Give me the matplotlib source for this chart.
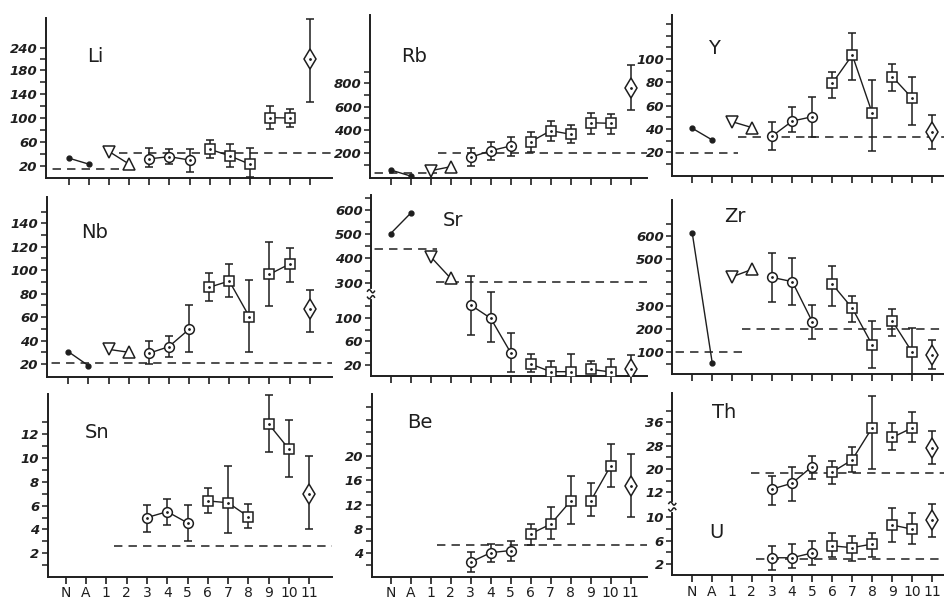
import matplotlib.pyplot as plt
import numpy as np
from matplotlib.lines import Line2D

W, H = 944, 600
ink = '#1e1e1e'
nan = np.nan

cats = ['N', 'A', '1', '2', '3', '4', '5', '6', '7', '8', '9', '10', '11']
groups = [[0, 1], [2, 3], [4, 5, 6], [7, 8, 9], [10, 11]]

# --- values (nan = no point / no error bar) ---
li_val = [33, 23, 44, 23, 32, 35.5, 30, 48, 37, 23, 100.5, 100, 210]
li_lo = [nan, nan, nan, nan, 19, 23, 9.5, 34, 18, 1, 81, 85, 126]
li_hi = [nan, nan, nan, nan, 50, 49, 48, 63, 57, 50, 120, 115, 320]
li_dash = [(-3, 2.9, 14.5), (2.5, 15, 41)]

rb_val = [57, 5, 51, 85, 166, 222, 263, 299, 394, 363, 462, 457, 762]
rb_lo = [nan, nan, nan, nan, 94, 143, 179, 209, 305, 286, 363, 365, 571]
rb_hi = [nan, nan, nan, nan, 243, 299, 342, 385, 479, 443, 548, 537, 957]
rb_dash = [(-3, 2.3, 34), (2.35, 15, 200)]

y_val = [40.6, 30.5, 46.2, 41.1, 34, 46.8, 50.5, 79.2, 103.4, 53.4, 84.8, 66.3, 37.1]
y_lo = [nan, nan, nan, nan, 22, 37.1, 32.9, 66.3, 82, 21.4, 72.8, 43.4, 22.8]
y_hi = [nan, nan, nan, nan, 46.2, 59.1, 67.2, 89.1, 122.6, 81.7, 95.7, 84.8, 52]
y_dash = [(-3, 2.28, 19.7), (2.28, 15, 33.4)]

nb_val = [30.5, 18.6, 32.5, 30, 29.1, 34.8, 49.6, 85.4, 90.8, 60.3, 96.5, 105.3, 66.9]
nb_lo = [nan, nan, nan, nan, 20, 25.7, 30, 73.7, 76.9, 30.5, 69.7, 90.2, 47]
nb_hi = [nan, nan, nan, nan, 39.6, 43.9, 70.3, 97.9, 105.3, 91.6, 124.3, 118.7, 83.1]
nb_dash = [(-3, 15, 20.6)]

sr_val = [503, 587, 407, 318, 121.5, 99, 40.8, 21.7, 8.7, 8.7, 12.7, 8.2, 12.4]
sr_lo = [nan, nan, nan, nan, 70.7, 59.4, 7.7, 8.7, 2, 2, 7, 2, 2]
sr_hi = [nan, nan, nan, nan, 327.6, 245, 73.6, 38.1, 26.8, 38.1, 26.8, 30, 36.9]
sr_dash = [(-3, 2.3, 438), (2.28, 15, 304)]

zr_val = [610, 52.8, 424, 456, 421, 403, 231, 392, 289, 131, 234, 100, 89]
zr_lo = [nan, nan, nan, nan, 317, 301, 157, 299, 231, 31, 171, 6, 28]
zr_hi = [nan, nan, nan, nan, 527, 506, 303, 471, 343, 234, 286, 205, 153]
zr_dash = [(-3, 2.47, 102), (2.5, 15, 199)]

sn_val = [nan, nan, nan, nan, 5.0, 5.5, 4.56, 6.4, 6.25, 5.07, 12.86, 10.75, 7.0]
sn_lo = [nan, nan, nan, nan, 3.8, 4.4, 3.0, 5.35, 3.7, 4.15, 10.5, 8.4, 4.0]
sn_hi = [nan, nan, nan, nan, 6.05, 6.55, 6.1, 7.5, 9.3, 6.13, 15.3, 13.2, 10.2]
sn_dash = [(2.4, 15, 2.6)]

be_val = [nan, nan, nan, nan, 2.55, 4.1, 4.46, 7.2, 8.8, 12.6, 12.6, 18.4, 15.0]
be_lo = [nan, nan, nan, nan, 1.0, 2.55, 2.7, 5.3, 6.3, 8.8, 10.2, 14.9, 9.9]
be_hi = [nan, nan, nan, nan, 4.2, 5.6, 6.0, 8.9, 11.6, 16.7, 15.5, 22, 20.4]
be_dash = [(2.3, 15, 5.3)]

th_val = [nan, nan, nan, nan, 13.1, 15.1, 20.8, 18.9, 23.1, 34.1, 30.8, 34.1, 27.3]
th_lo = [nan, nan, nan, nan, 7.6, 9.1, 16.6, 14.7, 18.9, 19.9, 26.5, 29.2, 21.6]
th_hi = [nan, nan, nan, nan, 17.6, 20.6, 24.6, 22.7, 27.7, 45, 35.6, 39.4, 33.1]
th_dash = [(2.98, 15, 18.7)]

u_val = [nan, nan, nan, nan, 3.1, 3.1, 3.9, 5.1, 4.8, 5.4, 8.6, 7.9, 9.4]
u_lo = [nan, nan, nan, nan, 1.0, 1.3, 1.9, 3.3, 2.6, 3.3, 5.8, 5.4, 6.6]
u_hi = [nan, nan, nan, nan, 5.1, 5.4, 6.0, 7.3, 6.8, 7.2, 11.4, 10.7, 12.2]
u_dash = [(3.2, 15, 2.9)]

fig = plt.figure(figsize=(W / 100, H / 100), dpi=100)


def panel(left, right, top, bottom, n_px, p11_px, bottom_row=False):
    ax = fig.add_axes([left / W, 1 - bottom / H, (right - left) / W, (bottom - top) / H])
    dx = (p11_px - n_px) / 12
    ax.set_xlim(-(n_px - left) / dx, 12 + (right - p11_px) / dx)
    for s in ['top', 'right']:
        ax.spines[s].set_visible(False)
    for s in ['left', 'bottom']:
        ax.spines[s].set_linewidth(1.4)
        ax.spines[s].set_color(ink)
    ax.set_xticks(range(13), cats if bottom_row else [])
    ax.tick_params(axis='x', direction='out', length=5, width=1.2, color=ink,
                   labelsize=10, labelcolor=ink, pad=2)
    ax.tick_params(axis='y', direction='out', length=4, width=1.1, color=ink,
                   labelsize=9.5, labelcolor=ink, pad=2)
    return ax


def lin_ylim(ax, top, bottom, v1, p1, v2, p2):
    k = (p1 - p2) / (v2 - v1)
    ax.set_ylim(v1 - (bottom - p1) / k, v1 + (p1 - top) / k)


def pw_scale(ax, top, bottom, vals, pix):
    h = -np.array(pix, float)
    v = np.array(vals, float)
    fwd = lambda a: np.interp(a, v, h)
    inv = lambda a: np.interp(a, h, v)
    ax.set_yscale('function', functions=(fwd, inv))
    ax.set_ylim(inv(-bottom), inv(-top))


def yticks(ax, ticks, labelled):
    labels = [str(t) if t in labelled else '' for t in ticks]
    ax.set_yticks(ticks, labels, fontstyle='italic', fontweight='bold')
    ax.minorticks_off()


def draw(ax, val, lo, hi, dashes):
    x = np.arange(13)
    val = np.array(val, float)
    lo = np.array(lo, float)
    hi = np.array(hi, float)
    for a, b, v in dashes:
        ax.plot([a, b], [v, v], ls=(0, (5.5, 4)), color=ink, lw=1.1, zorder=1)
    for g in groups:
        ax.plot(x[g], val[g], '-', color=ink, lw=1.0, zorder=2)
    ok = ~np.isnan(lo)
    ax.errorbar(x[ok], val[ok], yerr=[val[ok] - lo[ok], hi[ok] - val[ok]], fmt='none',
                ecolor=ink, elinewidth=1.1, capsize=3, capthick=1.1, zorder=2)
    kw = dict(ls='none', mfc='white', mec=ink, mew=1.1, zorder=3)
    ax.plot(x[0:2], val[0:2], 'o', ms=3.5, color=ink, ls='none', zorder=3)
    ax.plot(x[2:3], val[2:3], 'v', ms=8, **kw)
    ax.plot(x[3:4], val[3:4], '^', ms=8, **kw)
    ax.plot(x[4:7], val[4:7], 'o', ms=7, **kw)
    ax.plot(x[7:12], val[7:12], 's', ms=7, **kw)
    ax.plot(x[12:], val[12:], 'd', ms=10.5, **kw)
    ax.plot(x[4:], val[4:], '.', ms=2, color=ink, ls='none', zorder=4)


def spine_break(x_px, y1, y2):
    fig.add_artist(Line2D([x_px / W] * 2, [1 - y1 / H, 1 - y2 / H], color='white', lw=3))
    t = np.linspace(-1, 1, 20)
    for yy, sgn in ((y1, 1), (y2, -1)):
        xs = x_px + 3.5 * t
        ys = yy + sgn * 1.6 * np.sin(np.pi * t)
        fig.add_artist(Line2D(xs / W, 1 - ys / H, color=ink, lw=1.1))


def label(x_px, y_px, s):
    fig.text(x_px / W, 1 - y_px / H, s, ha='center', va='center', fontsize=14, color=ink)


# Li
ax = panel(46, 332, 18, 178, 69, 310)
pw_scale(ax, 18, 178, [-50, 20, 180, 240, 500], [208, 166, 70, 48, -47.3])
yticks(ax, [20, 40, 60, 80, 100, 120, 140, 160, 180, 210, 240], [20, 60, 100, 140, 180, 240])
draw(ax, li_val, li_lo, li_hi, li_dash)
label(95, 57, 'Li')

# Rb
ax = panel(370, 647, 15, 177.7, 390.7, 630.7)
lin_ylim(ax, 15, 177.7, 200, 153.3, 800, 83.3)
yticks(ax, list(range(100, 1000, 100)), [200, 400, 600, 800])
draw(ax, rb_val, rb_lo, rb_hi, rb_dash)
label(414, 57, 'Rb')

# Y
ax = panel(672.3, 944, 15, 175.7, 692.3, 932.3)
lin_ylim(ax, 15, 175.7, 20, 152.3, 100, 59)
yticks(ax, list(range(10, 140, 10)), [20, 40, 60, 80, 100])
draw(ax, y_val, y_lo, y_hi, y_dash)
label(714, 48, 'Y')

# Nb
ax = panel(46.7, 332, 197.3, 376.7, 68.3, 309.7)
lin_ylim(ax, 197.3, 376.7, 20, 364, 140, 223.3)
yticks(ax, list(range(20, 160, 10)), [20, 40, 60, 80, 100, 120, 140])
draw(ax, nb_val, nb_lo, nb_hi, nb_dash)
label(95, 233, 'Nb')

# Sr (broken axis)
ax = panel(371, 647, 195, 375.7, 390.7, 630.7)
pw_scale(ax, 195, 375.7, [-50, 135.5, 262.9, 900], [406.4, 296.7, 291.7, 137.3])
yticks(ax, [20, 40, 60, 80, 100, 120, 300, 350, 400, 450, 500, 550, 600, 650],
       [20, 60, 100, 300, 400, 500, 600])
draw(ax, sr_val, sr_lo, sr_hi, sr_dash)
spine_break(371, 291.2, 297.2)
label(453, 220, 'Sr')

# Zr
ax = panel(672.3, 944, 200, 374.3, 692.3, 932.3)
lin_ylim(ax, 200, 374.3, 100, 352.3, 600, 235.7)
yticks(ax, list(range(50, 700, 50)), [100, 200, 300, 500, 600])
draw(ax, zr_val, zr_lo, zr_hi, zr_dash)
label(735, 217, 'Zr')

# Sn
ax = panel(47.7, 332, 394, 576.7, 65.7, 309.3, bottom_row=True)
lin_ylim(ax, 394, 576.7, 2, 553.3, 12, 434.3)
yticks(ax, list(range(1, 14)), [2, 4, 6, 8, 10, 12])
draw(ax, sn_val, sn_lo, sn_hi, sn_dash)
label(97, 432, 'Sn')

# Be
ax = panel(371.7, 647, 394, 576.7, 390.7, 630.7, bottom_row=True)
lin_ylim(ax, 394, 576.7, 4, 553.3, 20, 456)
yticks(ax, list(range(2, 30, 2)), [4, 8, 12, 16, 20])
draw(ax, be_val, be_lo, be_hi, be_dash)
label(420, 423, 'Be')

# Th / U (two scales on one frame)
ax = panel(672.3, 944, 392.7, 575, 691.7, 932.3, bottom_row=True)
lin_ylim(ax, 392.7, 575, 2, 564.3, 10, 516.7)
yticks(ax, [2, 4, 6, 8, 10], [2, 6, 10])
draw(ax, u_val, u_lo, u_hi, u_dash)
th = ax.twinx()
th.yaxis.set_ticks_position('left')
for s in th.spines.values():
    s.set_visible(False)
th.tick_params(axis='y', direction='out', length=4, width=1.1, color=ink,
               labelsize=9.5, labelcolor=ink, pad=2)
lin_ylim(th, 392.7, 575, 12, 492.3, 36, 422.3)
yticks(th, list(range(12, 44, 4)), [12, 20, 28, 36])
draw(th, th_val, th_lo, th_hi, th_dash)
spine_break(672.3, 503.5, 509.5)
label(724, 412, 'Th')
label(716, 532, 'U')

fig.savefig('out.png', dpi=100, facecolor='white')
